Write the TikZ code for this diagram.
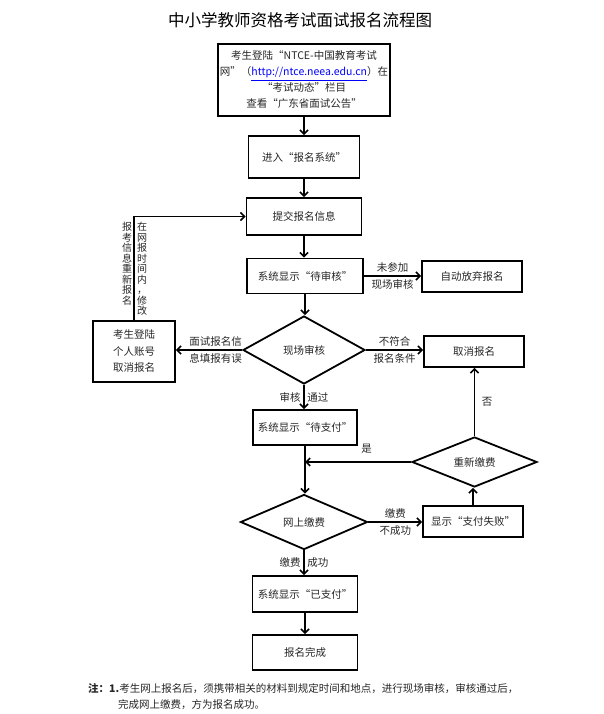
\documentclass[tikz,border=0pt]{standalone}
\usepackage{fontspec}
\setmainfont{Noto Sans CJK SC}
\usetikzlibrary{shapes.geometric,arrows.meta}

\begin{document}
\begin{tikzpicture}
[x=1pt,y=-1pt,
  boxDecorate/.style={shape=rectangle,draw,line width=1.8pt,inner sep=0pt,align=center,text=black!85,font=\fontsize{10.5}{16.5}\selectfont},%
  diamondDecorate/.style={shape=diamond,shape aspect=2,draw,line width=1.8pt,inner sep=0pt,text=black!85,font=\fontsize{10.5}{15}\selectfont},%
  arrowDecorate/.style={-{Straight Barb[length=4pt,width=8pt]},line width=1.6pt},%
  labelDecorate/.style={text=black!85,font=\fontsize{10.5}{15}\selectfont,inner sep=2.5pt},%
  columnDecorate/.style={text=black!85,font=\fontsize{10}{10.5}\selectfont,align=center,inner sep=0pt,anchor=north}]
\useasboundingbox (0,0) rectangle (603,714);
%% title
\node (title) at (300,20) [font=\fontsize{16.5}{20}\selectfont] {中小学教师资格考试面试报名流程图};
%% nodes or vertices
\node (top) at (304,80) [boxDecorate,minimum width=172pt,minimum height=72pt,font=\fontsize{10.5}{16}\selectfont]
  {考生登陆“NTCE-中国教育考试\\网”（\textcolor{blue}{\underline{http://ntce.neea.edu.cn}}）在\\“考试动态”栏目\\查看“广东省面试公告”};
\foreach \nodename/\x/\y/\w/\h/\txt in {enter/304/157/111/42/进入“报名系统”,
  submit/304/216.5/115/37/提交报名信息, waitAudit/305/276/116/35/系统显示“待审核”,
  giveUp/472/276.5/100/31/自动放弃报名, cancel/474/351.5/100/31/取消报名,
  selfCancel/134/351.5/82/61/考生登陆\\个人账号\\取消报名, waitPay/305/427.5/104/35/系统显示“待支付”,
  payFail/473/521.5/100/31/显示“支付失败”, paid/305/594/105/36/系统显示“已支付”,
  done/305/652.5/105/35/报名完成}
{
  \node (\nodename) at (\x,\y) [boxDecorate,minimum width=\w pt,minimum height=\h pt] {\txt};
}
\foreach \nodename/\x/\y/\w/\h/\txt in {audit/304/350/122/68/现场审核,
  payOnline/304/522/127/55/网上缴费, repay/474.5/462/125/50/重新缴费}
{
  \node (\nodename) at (\x,\y) [diamondDecorate,minimum width=\w pt,minimum height=\h pt] {\txt};
}
%% edges or lines
\foreach \from/\to in {top/enter, enter/submit, submit/waitAudit, waitAudit/audit, waitPay/payOnline, paid/done}
{
  \draw[arrowDecorate] (\from.south) -- (\from.south |- \to.north);
}
\draw[arrowDecorate] (waitAudit.east) -- (waitAudit.east -| giveUp.west)
  node[midway,above,labelDecorate] {未参加} node[midway,below,labelDecorate] {现场审核};
\draw[arrowDecorate] (audit.east) -- (audit.east -| cancel.west)
  node[midway,above,labelDecorate] {不符合} node[midway,below,labelDecorate] {报名条件};
\draw[arrowDecorate] (audit.west) -- (audit.west -| selfCancel.east)
  node[pos=0.4,above,labelDecorate] {面试报名信} node[pos=0.4,below,labelDecorate] {息填报有误};
\draw[arrowDecorate] (selfCancel.north) |- (submit.west);
\node (colRight) at (142,222) [columnDecorate] {在\\网\\报\\时\\间\\内\\，\\修\\改};
\node (colLeft) at (127,222) [columnDecorate] {报\\考\\信\\息\\重\\新\\报\\名};
\draw[arrowDecorate] (audit.south) -- (audit.south |- waitPay.north)
  node[midway,left,labelDecorate] {审核} node[midway,right,labelDecorate] {通过};
\draw[arrowDecorate] (payOnline.east) -- (payOnline.east -| payFail.west)
  node[midway,above,labelDecorate] {缴费} node[midway,below,labelDecorate] {不成功};
\draw[arrowDecorate] (payFail.north) -- (payFail.north |- repay.south);
\draw[arrowDecorate] (repay.north) -- (repay.north |- cancel.south)
  node[midway,right=4pt,labelDecorate] {否};
\draw[arrowDecorate] (repay.west) -- (repay.west -| waitPay.south)
  node[pos=0.42,above=5pt,labelDecorate] {是};
\draw[arrowDecorate] (payOnline.south) -- (payOnline.south |- paid.north)
  node[midway,left,labelDecorate] {缴费} node[midway,right,labelDecorate] {成功};
%% note
\node (note) at (88,692) [anchor=base west,labelDecorate,inner sep=0pt]
  {\textbf{注：1.}考生网上报名后，须携带相关的材料到规定时间和地点，进行现场审核，审核通过后，};
\node (noteTwo) at (118,708) [anchor=base west,labelDecorate,inner sep=0pt] {完成网上缴费，方为报名成功。};
\end{tikzpicture}
\end{document}
